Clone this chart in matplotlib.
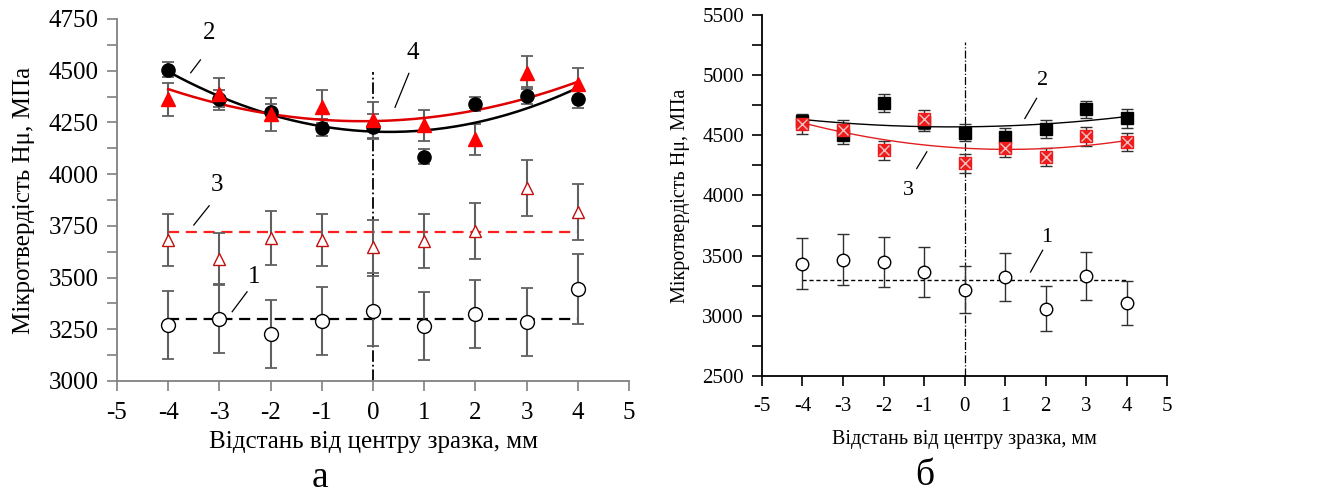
import numpy as np
import matplotlib
matplotlib.use("Agg")
import matplotlib.pyplot as plt
from matplotlib.ticker import MultipleLocator

plt.rcParams["font.family"] = ["Liberation Serif", "DejaVu Serif"]
plt.rcParams["axes.unicode_minus"] = False

# distance from sample centre, mm
x = np.array([-4, -3, -2, -1, 0, 1, 2, 3, 4])

# ---- panel a ----
a_s1 = [3270, 3298, 3227, 3290, 3337, 3265, 3325, 3285, 3446]
a_e1 = [165, 165, 165, 165, 170, 165, 165, 165, 170]
a_s2 = [4505, 4365, 4300, 4225, 4230, 4085, 4340, 4380, 4362]
a_e2 = [35, 40, 40, 40, 60, 35, 35, 40, 40]
a_s3 = [3681, 3592, 3690, 3680, 3650, 3675, 3725, 3931, 3817]
a_e3 = [125, 125, 130, 125, 130, 130, 135, 135, 135]
a_s4 = [4362, 4386, 4290, 4326, 4262, 4236, 4168, 4490, 4434]
a_e4 = [80, 77, 80, 80, 85, 75, 75, 80, 80]
a_lvl1 = 3300
a_lvl3 = 3720

# ---- panel b ----
b_s1 = [3434, 3467, 3448, 3364, 3218, 3323, 3059, 3331, 3106]
b_e1 = [210, 210, 210, 205, 195, 200, 185, 200, 185]
b_s2 = [4620, 4500, 4765, 4610, 4521, 4487, 4549, 4718, 4640]
b_e2 = [55, 70, 75, 70, 70, 70, 75, 70, 75]
b_s3 = [4590, 4545, 4377, 4632, 4266, 4391, 4316, 4493, 4443]
b_e3 = [75, 80, 80, 80, 80, 75, 75, 80, 75]
b_lvl1 = 3300

YLAB = "Мікротвердість Hμ, МПа"
XLAB = "Відстань від центру зразка, мм"


def style_axes(ax, spine_col, fs, lfs, xpad, ypad):
    for s in ("top", "right"):
        ax.spines[s].set_visible(False)
    for s in ("left", "bottom"):
        ax.spines[s].set_color(spine_col)
        ax.spines[s].set_linewidth(1.3)
    ax.set_xlim(-5, 5)
    ax.xaxis.set_major_locator(MultipleLocator(1))
    ax.tick_params(which="both", direction="out", color=spine_col, width=1.2,
                   labelsize=fs, labelcolor="black")
    ax.tick_params(which="both", length=7)
    ax.tick_params(axis="x", pad=8)
    ax.tick_params(axis="y", pad=6)
    ax.set_xlabel(XLAB, fontsize=lfs, labelpad=xpad)
    ax.set_ylabel(YLAB, fontsize=lfs, labelpad=ypad)


def fit_line(ax, xs, ys, **kw):
    c = np.polyfit(xs, ys, 2)
    xx = np.linspace(-4, 4, 200)
    ax.plot(xx, np.polyval(c, xx), **kw)


def leader(ax, label, txy, p0, p1, fs):
    ax.plot([p0[0], p1[0]], [p0[1], p1[1]], color="black", lw=0.9)
    ax.text(txy[0], txy[1], label, fontsize=fs, ha="center", va="center")


fig = plt.figure(figsize=(13.31, 4.93), dpi=100)

# ---------------- panel a ----------------
ax = fig.add_axes([0.0879, 0.2272, 0.3847, 0.7343])
style_axes(ax, "#808080", 18, 18, 5, 10)
ax.set_ylim(3000, 4750)
ax.yaxis.set_major_locator(MultipleLocator(250))
ax.yaxis.set_minor_locator(MultipleLocator(125))

ax.plot([0, 0], [3000, 4495], color="black", lw=1.3, ls="-.", zorder=1)
ax.plot([-4, 4], [a_lvl1, a_lvl1], color="black", lw=1.6, ls=(0, (5, 3)), zorder=2)
ax.plot([-4, 4], [a_lvl3, a_lvl3], color="#ff2020", lw=1.6, ls=(0, (5, 3)), zorder=2)
fit_line(ax, x, a_s2, color="black", lw=1.8, zorder=3)
fit_line(ax, x, a_s4, color="#e00000", lw=1.8, zorder=3)

eb = dict(fmt="none", ecolor="#606060", elinewidth=1.5, capsize=4, capthick=1.3, zorder=2)
ax.errorbar(x, a_s1, yerr=a_e1, **eb)
ax.errorbar(x, a_s3, yerr=a_e3, **eb)
ax.errorbar(x, a_s2, yerr=a_e2, **eb)
ax.errorbar(x, a_s4, yerr=a_e4, **eb)
ax.plot(x, a_s1, "o", ms=10, mfc="white", mec="black", mew=1.0, zorder=4)
ax.plot(x, a_s3, "^", ms=9, mfc="white", mec="#c01010", mew=1.0, zorder=4)
ax.plot(x, a_s2, "o", ms=9.5, mfc="black", mec="black", zorder=4)
ax.plot(x, a_s4, "^", ms=9.5, mfc="#ff0000", mec="#ff0000", zorder=5)

leader(ax, "2", (-3.2, 4682), (-3.56, 4490), (-3.37, 4552), 18)
leader(ax, "4", (0.78, 4585), (0.43, 4323), (0.70, 4487), 18)
leader(ax, "3", (-3.05, 3947), (-3.5, 3754), (-3.2, 3847), 18)
leader(ax, "1", (-2.32, 3504), (-2.75, 3335), (-2.46, 3431), 18)

# ---------------- panel b ----------------
bx = fig.add_axes([0.5725, 0.2373, 0.3043, 0.7323])
style_axes(bx, "black", 15, 14.5, 10, 9)
bx.set_ylim(2500, 5500)
bx.yaxis.set_major_locator(MultipleLocator(500))
bx.yaxis.set_minor_locator(MultipleLocator(250))

bx.plot([0, 0], [2500, 5278], color="black", lw=0.9, ls="-.", zorder=1)
bx.plot([-4, 4], [b_lvl1, b_lvl1], color="black", lw=1.0, ls=(0, (3, 2)), zorder=2)
fit_line(bx, x, b_s2, color="black", lw=1.0, zorder=3)
fit_line(bx, x, b_s3, color="#e02020", lw=1.0, zorder=3)

eb2 = dict(fmt="none", ecolor="#303030", elinewidth=1.0, capsize=4, capthick=1.0, zorder=2)
bx.errorbar(x, b_s1, yerr=b_e1, **eb2)
bx.errorbar(x, b_s2, yerr=b_e2, **eb2)
bx.errorbar(x, b_s3, yerr=b_e3, **eb2)
bx.plot(x, b_s1, "o", ms=9, mfc="white", mec="black", mew=1.0, zorder=4)
bx.plot(x, b_s2, "s", ms=9, mfc="black", mec="black", zorder=4)
bx.plot(x, b_s3, "s", ms=9, mfc="#ee1c1c", mec="#ee1c1c", zorder=5)
bx.plot(x, b_s3, "x", ms=7, mec="#f0c0c0", mew=1.0, zorder=6)

leader(bx, "2", (1.93, 4959), (1.49, 4640), (1.78, 4807), 16)
leader(bx, "3", (-1.39, 4044), (-1.18, 4224), (-0.93, 4363), 16)
leader(bx, "1", (2.03, 3650), (1.63, 3364), (1.93, 3545), 16)

fig.text(0.240, 0.030, "а", fontsize=27, ha="center", va="center")
fig.text(0.695, 0.036, "б", fontsize=27, ha="center", va="center")

fig.savefig("out.png", dpi=100)
